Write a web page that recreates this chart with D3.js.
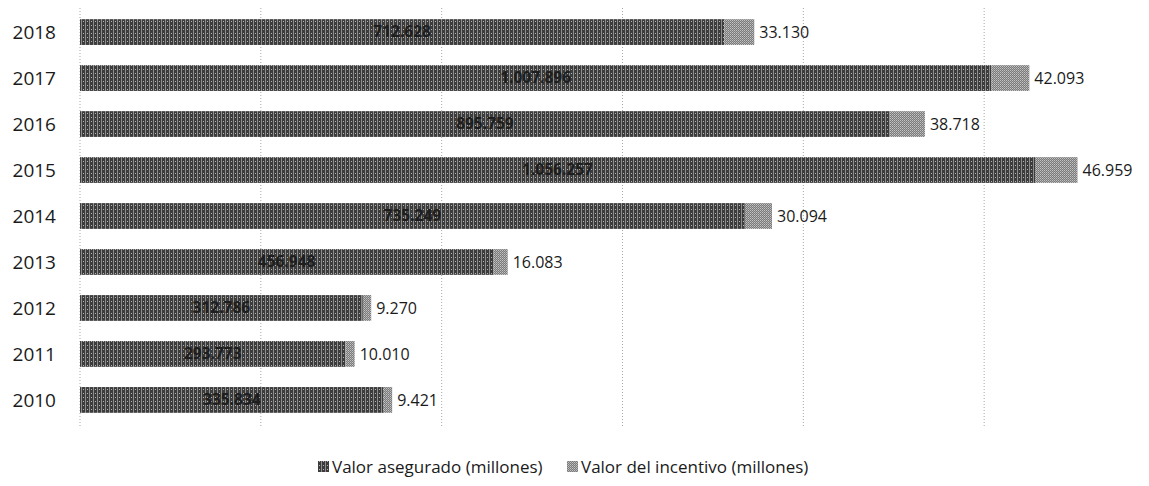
<!DOCTYPE html>
<html>
<head>
<meta charset="utf-8">
<script src="https://cdn.jsdelivr.net/npm/d3@7"></script>
<style>
  html, body { margin: 0; padding: 0; background: #fff; }
  text { font-family: "Open Sans", "Noto Sans", sans-serif; }
</style>
</head>
<body>
<div id="chart_div"></div>
<script>
var years = ['2018', '2017', '2016', '2015', '2014', '2013', '2012', '2011', '2010'];
var valor_asegurado = [712628, 1007896, 895759, 1056257, 735249, 456948, 312786, 293773, 335834];
var valor_incentivo = [33130, 42093, 38718, 46959, 30094, 16083, 9270, 10010, 9421];
var x_ticks = [0, 200000, 400000, 600000, 800000, 1000000, 1200000];
var series_names = ['Valor asegurado (millones)', 'Valor del incentivo (millones)'];

function draw_chart() {
    var width = 1149, height = 486;
    var fmt = d3.formatLocale({decimal: ',', thousands: '.', grouping: [3], currency: ['', '']}).format(',d');

    var svg = d3.select('#chart_div')
        .append('svg')
        .attr('width', width)
        .attr('height', height);

    // dithered look of the scanned bars
    var defs = svg.append('defs');
    var p1 = defs.append('pattern').attr('id', 'pat_aseg')
        .attr('width', 4).attr('height', 4).attr('patternUnits', 'userSpaceOnUse');
    p1.append('rect').attr('width', 4).attr('height', 4).attr('fill', '#3c3c3c');
    p1.append('rect').attr('x', 1).attr('width', 1).attr('height', 4).attr('fill', '#8e8e8e');
    p1.append('rect').attr('x', 3).attr('y', 1).attr('width', 1).attr('height', 1).attr('fill', '#b5b5b5');
    var p2 = defs.append('pattern').attr('id', 'pat_inc')
        .attr('width', 2).attr('height', 2).attr('patternUnits', 'userSpaceOnUse');
    p2.append('rect').attr('width', 2).attr('height', 2).attr('fill', '#7a7a7a');
    p2.append('rect').attr('width', 1).attr('height', 1).attr('fill', '#c4c4c4');
    p2.append('rect').attr('x', 1).attr('y', 1).attr('width', 1).attr('height', 1).attr('fill', '#a8a8a8');

    var x = d3.scaleLinear().domain([0, 1200000]).range([80, 1165]);
    var y = d3.scaleBand().domain(years).range([10, 422]).paddingInner(0.44).paddingOuter(0.2);

    // grid
    svg.append('g').selectAll('line')
        .data(x_ticks)
        .enter()
        .append('line')
        .attr('x1', d => x(d)).attr('x2', d => x(d))
        .attr('y1', 8).attr('y2', 428)
        .attr('stroke', '#a8a8a8')
        .attr('stroke-width', 1)
        .attr('stroke-dasharray', '1,2');

    // year labels
    svg.append('g').selectAll('text')
        .data(years)
        .enter()
        .append('text')
        .attr('x', 56)
        .attr('y', d => y(d) + y.bandwidth() / 2)
        .attr('dy', '0.35em')
        .style('text-anchor', 'end')
        .style('font-size', '19px')
        .style('fill', '#1a1a1a')
        .text(d => d);

    var rows = years.map((d, i) => ({year: d, a: valor_asegurado[i], b: valor_incentivo[i]}));

    var bars = svg.append('g');
    bars.selectAll('.aseg')
        .data(rows)
        .enter()
        .append('rect')
        .attr('class', 'aseg')
        .attr('x', x(0))
        .attr('y', d => y(d.year))
        .attr('width', d => x(d.a) - x(0))
        .attr('height', y.bandwidth())
        .attr('fill', 'url(#pat_aseg)');

    bars.selectAll('.inc')
        .data(rows)
        .enter()
        .append('rect')
        .attr('class', 'inc')
        .attr('x', d => x(d.a))
        .attr('y', d => y(d.year))
        .attr('width', d => x(d.a + d.b) - x(d.a))
        .attr('height', y.bandwidth())
        .attr('fill', 'url(#pat_inc)');

    // value labels inside (asegurado)
    bars.selectAll('.lbl_a')
        .data(rows)
        .enter()
        .append('text')
        .attr('x', d => (x(0) + x(d.a)) / 2)
        .attr('y', d => y(d.year) + y.bandwidth() / 2)
        .attr('dy', '0.35em')
        .style('text-anchor', 'middle')
        .style('font-size', '15.5px')
        .style('font-weight', 700)
        .style('fill', '#1e1e1e')
        .text(d => fmt(d.a));

    // value labels outside (incentivo)
    bars.selectAll('.lbl_b')
        .data(rows)
        .enter()
        .append('text')
        .attr('x', d => x(d.a + d.b) + 5)
        .attr('y', d => y(d.year) + y.bandwidth() / 2)
        .attr('dy', '0.35em')
        .style('font-size', '16px')
        .style('fill', '#1a1a1a')
        .text(d => fmt(d.b));

    // legend
    var legend = svg.append('g');
    var legend_x = [318, 567];
    var legend_fill = ['url(#pat_aseg)', 'url(#pat_inc)'];
    legend.selectAll('rect')
        .data(series_names)
        .enter()
        .append('rect')
        .attr('x', (d, i) => legend_x[i])
        .attr('y', 461)
        .attr('width', 11)
        .attr('height', 11)
        .attr('fill', (d, i) => legend_fill[i]);
    legend.selectAll('text')
        .data(series_names)
        .enter()
        .append('text')
        .attr('x', (d, i) => legend_x[i] + 14)
        .attr('y', 467)
        .attr('dy', '0.35em')
        .style('font-size', '17px')
        .style('fill', '#1a1a1a')
        .text(d => d);
}

document.addEventListener('DOMContentLoaded', draw_chart);
</script>
</body>
</html>
